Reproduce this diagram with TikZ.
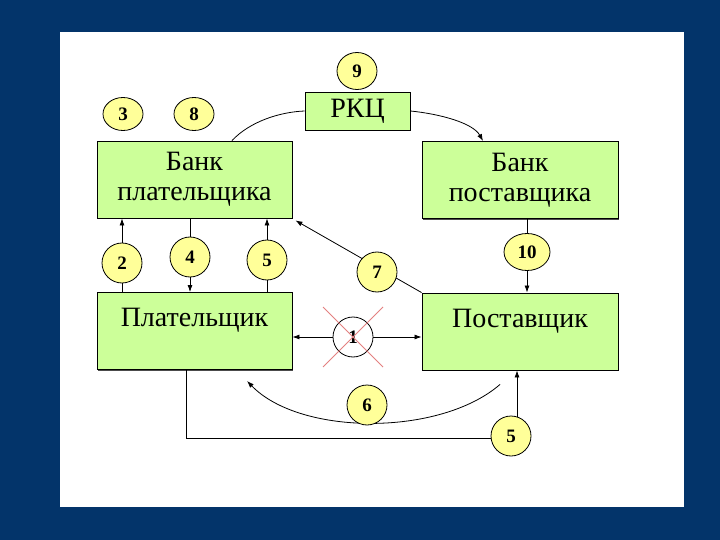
\documentclass[tikz,border=0pt]{standalone}
\usepackage{fontspec}
\setmainfont{Liberation Serif}
\usepackage{xcolor}
\usetikzlibrary{arrows.meta,shapes.geometric,shadows}

\definecolor{slideblue}{RGB}{3,52,106}
\definecolor{boxgreen}{RGB}{204,255,153}
\definecolor{numyellow}{RGB}{255,255,153}
\definecolor{crossred}{RGB}{228,128,128}

\pgfdeclarelayer{frame}
\pgfdeclarelayer{links}
\pgfsetlayers{frame,links,main}

\begin{document}
\begin{tikzpicture}[
  x=1pt,y=-1pt,
  box/.style={draw,line width=0.9pt,fill=boxgreen,align=center,inner sep=0pt,
    font=\fontsize{28}{30}\selectfont,
    drop shadow={shadow xshift=1.2pt,shadow yshift=-1.2pt,fill=black,opacity=.7}},
  bigbox/.style={box,minimum width=195pt,minimum height=77pt},
  topbox/.style={bigbox,align=none,text height=34pt,text depth=43pt},
  num/.style={ellipse,draw,line width=0.8pt,fill=numyellow,inner sep=0pt,
    minimum width=40pt,minimum height=40pt,font=\fontsize{19}{19}\selectfont\bfseries},
  arr/.style={line width=0.8pt,-{Latex[length=7pt,width=5pt]}},
  arrtwo/.style={line width=0.8pt,{Latex[length=7pt,width=5pt]}-{Latex[length=7pt,width=5pt]}},
  con/.style={line width=0.8pt},
  cross/.style={crossred,line width=0.8pt}
]
% slide frame
\begin{pgfonlayer}{frame}
\fill[slideblue] (0,0) rectangle (720,540);
\fill[white] (60,32) rectangle (684,507);
\end{pgfonlayer}

% boxes
\node[bigbox] (bpayer) at (194.5,179.5) {Банк\\плательщика};
\node[bigbox,minimum width=196pt] (bsupp) at (520,180) {Банк\\поставщика};
\node[box,minimum width=105pt,minimum height=38pt] (rkc) at (357.5,111) {РКЦ};
\node[topbox] (payer) at (194.5,331) {Плательщик};
\node[topbox,minimum width=196pt] (supp) at (520,331.5) {Поставщик};

% numbers
\node[num,minimum height=33pt] (n3) at (123,114) {3};
\node[num,minimum height=33pt] (n8) at (194,114) {8};
\node[num,minimum height=37pt] (n9) at (357,71) {9};
\node[num] (n2) at (122,263) {2};
\node[num] (n4) at (190,257) {4};
\node[num] (n5a) at (267,260) {5};
\node[num] (n7) at (377,272) {7};
\node[num,minimum width=46pt,minimum height=37pt] (n10) at (527,252) {10};
\node[num,fill=white] (n1) at (353,337) {1};
\node[num] (n6) at (367,405) {6};
\node[num] (n5b) at (511,436) {5};
\draw[cross] ([shift={(-30,-30)}]n1.center) -- ([shift={(30,30)}]n1.center);
\draw[cross] ([shift={(30,-30)}]n1.center) -- ([shift={(-30,30)}]n1.center);

\begin{pgfonlayer}{links}
\draw[con] ([xshift=37.5pt]bpayer.north) .. controls +(18,-19) and +(-25,1) .. (rkc.west);
\draw[arr] (rkc.east) .. controls +(30,3) and +(-10,-18) .. ([xshift=-37pt]bsupp.north);
\draw[arr] (payer.north -| n2) -- (bpayer.south -| n2);
\draw[arr] (bpayer.south -| n4) -- (payer.north -| n4);
\draw[arr] (payer.north -| n5a) -- (bpayer.south -| n5a);
\draw[arr] (supp.north west) -- ([shift={(3,2)}]bpayer.south east);
\draw[arr] (bsupp.south -| n10) -- (supp.north -| n10);
\draw[arrtwo] (payer.east |- n1) -- (supp.west |- n1);
\draw[arr] ([shift={(-20,14)}]supp.south) .. controls +(-60,52) and +(53,55) .. ([shift={(52.5,11)}]payer.south);
\draw[arr] ([xshift=-8.5pt]payer.south) -- ++(0,68.5) -| ([xshift=-3pt]supp.south);
\end{pgfonlayer}
\end{tikzpicture}
\end{document}
